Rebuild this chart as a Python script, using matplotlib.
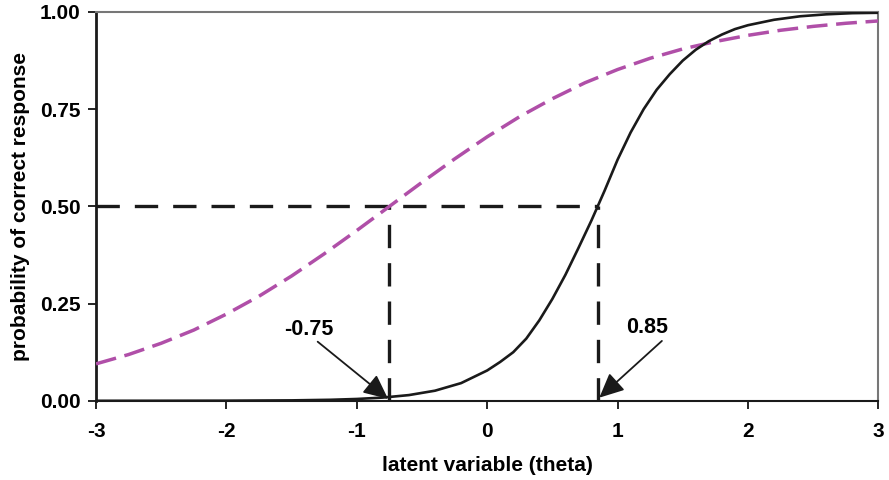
import matplotlib.pyplot as plt

plt.rcParams['font.family'] = ['Liberation Sans', 'DejaVu Sans']
plt.rcParams['font.weight'] = 'bold'
plt.rcParams['axes.unicode_minus'] = False

# steep item (b = 0.85)
theta_steep = [-3.0, -2.5, -2.0, -1.5, -1.2, -1.0, -0.8, -0.6, -0.4, -0.2,
               0.0, 0.1, 0.2, 0.3, 0.4, 0.5, 0.6, 0.7, 0.8, 0.9,
               1.0, 1.1, 1.2, 1.3, 1.4, 1.5, 1.6, 1.7, 1.8, 1.9,
               2.0, 2.2, 2.4, 2.6, 2.8, 3.0]
p_steep = [0.0, 0.0001, 0.0003, 0.0011, 0.0026, 0.0047, 0.0083, 0.0147, 0.026, 0.0455,
           0.078, 0.100, 0.125, 0.160, 0.207, 0.262, 0.324, 0.393, 0.464, 0.540,
           0.620, 0.690, 0.750, 0.800, 0.840, 0.875, 0.903, 0.925, 0.942, 0.956,
           0.966, 0.980, 0.989, 0.994, 0.997, 0.998]

# flat item (b = -0.75)
theta_flat = [-3.0, -2.75, -2.5, -2.25, -2.0, -1.75, -1.5, -1.25, -1.0, -0.75,
              -0.5, -0.25, 0.0, 0.25, 0.5, 0.75, 1.0, 1.25, 1.5, 1.75,
              2.0, 2.25, 2.5, 2.75, 3.0]
p_flat = [0.095, 0.119, 0.148, 0.182, 0.223, 0.269, 0.321, 0.378, 0.438, 0.500,
          0.562, 0.622, 0.679, 0.731, 0.777, 0.818, 0.852, 0.881, 0.905, 0.924,
          0.940, 0.953, 0.963, 0.971, 0.977]

difficulties = [-0.75, 0.85]
diff_labels = ['-0.75', '0.85']

fig = plt.figure(figsize=(8.89, 4.8), dpi=100)
ax = fig.add_axes([0.108, 0.165, 0.880, 0.810])

ax.plot(theta_flat, p_flat, color='#b04fa8', lw=2.5, dashes=(6, 2.5), zorder=3)
ax.plot(theta_steep, p_steep, color='#1a1a1a', lw=1.9, zorder=4)

# reference lines at p = 0.5
dash = (7, 4.5)
ax.plot([-3, max(difficulties)], [0.5, 0.5], color='#1a1a1a', lw=2.4, dashes=dash, zorder=2)
for b in difficulties:
    ax.plot([b, b], [0, 0.5], color='#1a1a1a', lw=2.4, dashes=dash, zorder=2)

# labels and arrows pointing at the difficulties
arrow = dict(arrowstyle='-|>,head_length=0.75,head_width=0.35', color='#1a1a1a',
             lw=1.3, mutation_scale=20, shrinkA=0, shrinkB=0)
ax.text(-1.37, 0.183, diff_labels[0], ha='center', va='center', fontsize=15.5, fontweight='bold')
ax.annotate('', xy=(-0.76, 0.005), xytext=(-1.30, 0.152), arrowprops=arrow, zorder=5)
ax.text(1.23, 0.188, diff_labels[1], ha='center', va='center', fontsize=15.5, fontweight='bold')
ax.annotate('', xy=(0.86, 0.008), xytext=(1.34, 0.154), arrowprops=arrow, zorder=5)

ax.set_xlim(-3, 3)
ax.set_ylim(0, 1)
ax.set_xticks([-3, -2, -1, 0, 1, 2, 3])
ax.set_yticks([0, 0.25, 0.5, 0.75, 1.0])
ax.set_yticklabels(['0.00', '0.25', '0.50', '0.75', '1.00'])
ax.tick_params(direction='out', length=6, width=1.2, labelsize=15, pad=5)
ax.tick_params(axis='x', pad=9)

ax.spines['left'].set_linewidth(2)
ax.spines['left'].set_color('#1a1a1a')
ax.spines['bottom'].set_linewidth(1.5)
ax.spines['bottom'].set_color('#1a1a1a')
for side in ['top', 'right']:
    ax.spines[side].set_linewidth(1.5)
    ax.spines[side].set_color('#777777')

ax.set_xlabel('latent variable (theta)', fontsize=15, fontweight='bold', labelpad=11)
ax.set_ylabel('probability of correct response', fontsize=15, fontweight='bold', labelpad=7)

fig.savefig('out.png', dpi=100)
